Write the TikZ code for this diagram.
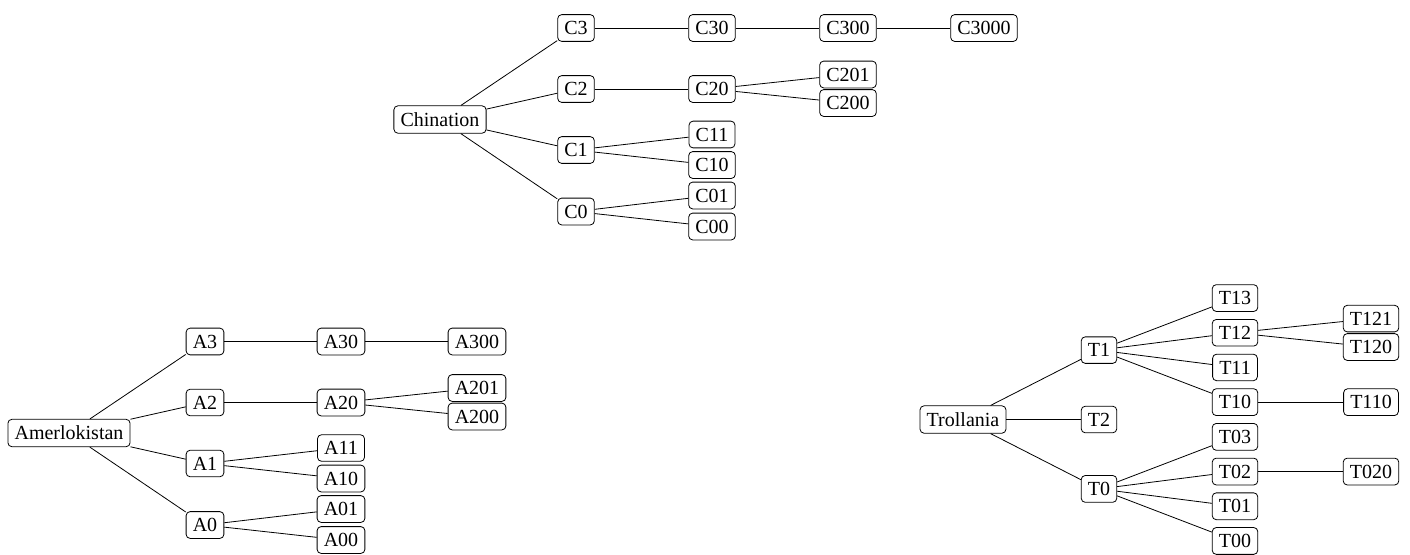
\documentclass[tikz,border=0pt]{standalone}
\usepackage{fontspec}
\setmainfont{Liberation Serif}
\usepackage{tikz}
\usetikzlibrary{positioning}
\tikzstyle{box}=[draw, rounded corners=2pt, inner sep=3.33pt, fill=white]
\tikzstyle{undirectededge} = [draw]

\begin{document}
\begin{tikzpicture}[x=0.5pt, y=-0.5pt]
    \useasboundingbox (0,0) rectangle (1410,554);

    % Chination
    \def\dx{440};
    \def\dy{119.5};
    \node[box] (Chination) at (\dx, \dy) {Chination};
    \foreach \id/\x/\y in { C3/136/-91.5, C2/136/-30.5, C1/136/30.5, C0/136/92, C30/272/-91.5, C20/272/-30.5, C11/272/15, C10/272/45.5, C01/272/76, C00/272/107, C300/408/-91.5, C201/408/-45, C200/408/-16.5, C3000/544/-91.5 }
        \node[box] (\id) at (\x+\dx, \y+\dy) {\id};

    \foreach \source/\dest in {Chination/C3, Chination/C2, Chination/C1, Chination/C0, C3/C30, C30/C300, C300/C3000, C2/C20, C20/C201, C20/C200, C1/C11, C1/C10, C0/C01, C0/C00}
            \path[undirectededge] (\source) -- (\dest);

    % Amerlokistan
    \def\dx{69};
    \def\dy{433};
    \node[box] (Amerlokistan) at (\dx, \dy) {Amerlokistan};
    \foreach \id/\x/\y in { A3/136/-91.5, A2/136/-30.5, A1/136/30.5, A0/136/92, A30/272/-91.5, A20/272/-30.5, A11/272/15, A10/272/45.5, A01/272/76, A00/272/107, A300/408/-91.5, A201/408/-45, A200/408/-16.5 }
        \node[box] (\id) at (\x+\dx, \y+\dy) {\id};

    \foreach \source/\dest in {Amerlokistan/A3, Amerlokistan/A2, Amerlokistan/A1, Amerlokistan/A0, A3/A30, A30/A300, A2/A20, A20/A201, A20/A200, A1/A11, A1/A10, A0/A01, A0/A00}
            \path[undirectededge] (\source) -- (\dest);

    % Trollania
    \def\dx{963};
    \def\dy{419.5};
    \node[box] (Trollania) at (\dx, \dy) {Trollania};
    \foreach \id/\x/\y in { T1/136/-69.4, T2/136/0, T0/136/69.4, T13/272/-121.45, T12/272/-86.75, T11/272/-52.05, T10/272/-17.35, T03/272/17.35, T02/272/52.05, T01/272/86.75, T00/272/121.45, T121/408/-100.9, T120/408/-72.5, T110/408/-17.35, T020/408/52.05 }
        \node[box] (\id) at (\x+\dx, \y+\dy) {\id};

    \foreach \source/\dest in {Trollania/T1, Trollania/T2, Trollania/T0, T1/T13, T1/T12, T1/T11, T1/T10, T12/T121, T12/T120, T10/T110, T0/T03, T0/T02, T0/T01, T0/T00, T02/T020}
            \path[undirectededge] (\source) -- (\dest);

\end{tikzpicture}
\end{document}
